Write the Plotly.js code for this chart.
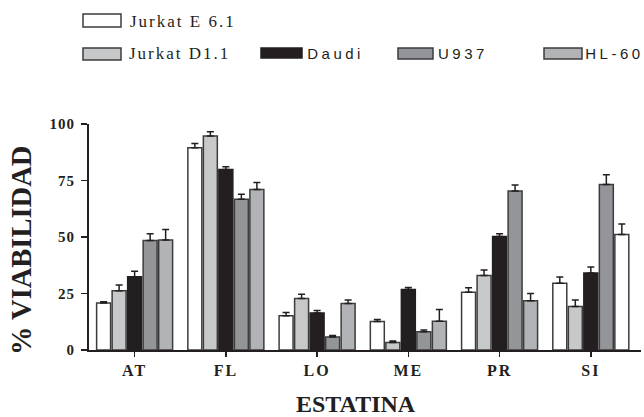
<!DOCTYPE html>
<html>
<head>
<meta charset="utf-8">
<script src="https://cdn.plot.ly/plotly-3.0.1.min.js"></script>
<style>
  html, body { margin: 0; padding: 0; background: #fff; }
  #chart { width: 644px; height: 417px; }
  .xtick text { letter-spacing: 2px; }
  .ytick text { letter-spacing: 1px; }
  g.annotation[data-index="2"] text, g.annotation[data-index="3"] text { letter-spacing: 2px; }
  g.annotation[data-index="4"] text, g.annotation[data-index="5"] text, g.annotation[data-index="6"] text { letter-spacing: 3.5px; }
</style>
</head>
<body>
<div id="chart"></div>
<script>
// ---- data ----
const categories = ['AT', 'FL', 'LO', 'ME', 'PR', 'SI'];
const seriesNames = ['Jurkat E 6.1', 'Jurkat D1.1', 'Daudi', 'U937', 'HL-60'];
const jurkatE = [20.8, 89.5, 15.1, 12.6, 25.6, 29.5];
const jurkatEErr = [0.5, 1.9, 1.5, 0.9, 1.9, 2.8];
const jurkatD = [26.2, 94.7, 22.8, 3.3, 33.0, 19.3];
const jurkatDErr = [2.6, 1.9, 1.9, 0.7, 2.4, 2.8];
const daudi = [32.4, 79.9, 16.4, 26.8, 50.2, 34.1];
const daudiErr = [2.4, 1.2, 1.1, 0.8, 1.2, 2.6];
const u937 = [48.4, 66.7, 5.8, 8.1, 70.4, 73.2];
const u937Err = [3.0, 2.2, 0.6, 0.8, 2.6, 4.3];
const hl60 = [48.7, 71.0, 20.6, 12.7, 21.8, 51.1];
const hl60Err = [4.6, 3.1, 1.5, 5.2, 3.2, 4.6];
const yTickVals = [0, 25, 50, 75, 100];

// ---- styles ----
const seriesColors = ['#ffffff', '#c7c8ca', '#231f20', '#939598', '#b1b3b6'];
const outline = '#3c3c3c';
const serif = 'Liberation Serif, Times New Roman, serif';
const sans = 'Liberation Sans, Arial, sans-serif';
const values = [jurkatE, jurkatD, daudi, u937, hl60];
const errors = [jurkatEErr, jurkatDErr, daudiErr, u937Err, hl60Err];

const traces = seriesNames.map((name, i) => {
  let color = seriesColors[i];
  if (name === 'HL-60') {
    color = categories.map(c => c === 'SI' ? '#ffffff' : seriesColors[i]);
  }
  return {
    type: 'bar',
    name: name,
    x: categories,
    y: values[i],
    marker: { color: color, line: { color: i === 2 ? '#231f20' : outline, width: 1.5 } },
    error_y: {
      type: 'data', symmetric: false, array: errors[i],
      arrayminus: errors[i].map(() => 0),
      color: '#231f20', thickness: 1.5, width: 3.5
    },
    showlegend: false
  };
});

// pixel -> paper helpers (plot area: x 89..641, y 124..350)
const L = 89, R = 3, T = 124, B = 67, W = 644, H = 417;
const pw = W - L - R, ph = H - T - B;
const px = x => (x - L) / pw;
const py = y => (H - B - y) / ph;

const shapes = [];
const annotations = [];
annotations.push({
  text: '% VIABILIDAD', xref: 'paper', yref: 'paper', x: px(21), y: py(251),
  textangle: -90, showarrow: false, xanchor: 'center', yanchor: 'middle',
  font: { family: serif, size: 28.5, weight: 'bold', color: '#231f20' }
});
annotations.push({
  text: 'ESTATINA', xref: 'paper', yref: 'paper', x: px(356), y: py(404),
  showarrow: false, xanchor: 'center', yanchor: 'middle',
  font: { family: serif, size: 24, weight: 'bold', color: '#231f20' }
});
// custom legend layout (text positions are text centres)
const legendPos = [
  { bx0: 83, bx1: 121, by0: 14, by1: 27, tx: 183, ty: 21, font: serif, size: 17 },
  { bx0: 83, bx1: 121, by0: 48, by1: 60, tx: 179.5, ty: 54, font: serif, size: 17 },
  { bx0: 261, bx1: 302, by0: 48, by1: 58, tx: 335, ty: 53, font: sans, size: 15 },
  { bx0: 398, bx1: 433, by0: 48, by1: 59, tx: 463, ty: 53, font: sans, size: 15 },
  { bx0: 544, bx1: 582, by0: 48, by1: 59, tx: 614.5, ty: 53, font: sans, size: 15 }
];
seriesNames.forEach((name, i) => {
  const p = legendPos[i];
  shapes.push({
    type: 'rect', xref: 'paper', yref: 'paper',
    x0: px(p.bx0), x1: px(p.bx1), y0: py(p.by1), y1: py(p.by0),
    fillcolor: seriesColors[i], line: { color: i === 2 ? '#231f20' : outline, width: 1.5 }
  });
  annotations.push({
    text: name, xref: 'paper', yref: 'paper', x: px(p.tx), y: py(p.ty),
    showarrow: false, xanchor: 'center', yanchor: 'middle',
    font: { family: p.font, size: p.size, color: '#231f20' }
  });
});

const layout = {
  width: W, height: H,
  margin: { l: L, r: R, t: T, b: B, pad: 0 },
  paper_bgcolor: '#ffffff', plot_bgcolor: '#ffffff',
  barmode: 'group', bargap: 0.15, bargroupgap: 0.1,
  showlegend: false,
  xaxis: {
    type: 'category', range: [-0.5, 5.55],
    showline: true, linecolor: '#231f20', linewidth: 2,
    ticks: 'outside', ticklen: 5, tickwidth: 1.5, tickcolor: '#231f20',
    showgrid: false, zeroline: false,
    tickfont: { family: serif, size: 16, weight: 'bold', color: '#231f20' }
  },
  yaxis: {
    range: [0, 100], tickvals: yTickVals, ticktext: yTickVals.map(String),
    showline: true, linecolor: '#231f20', linewidth: 2,
    ticks: 'outside', ticklen: 6, tickwidth: 1.5, tickcolor: '#231f20',
    showgrid: false, zeroline: false, ticklabelstandoff: 3,
    tickfont: { family: serif, size: 15, weight: 'bold', color: '#231f20' }
  },
  shapes: shapes,
  annotations: annotations
};

Plotly.newPlot('chart', traces, layout, { staticPlot: true, displayModeBar: false });
</script>
</body>
</html>
